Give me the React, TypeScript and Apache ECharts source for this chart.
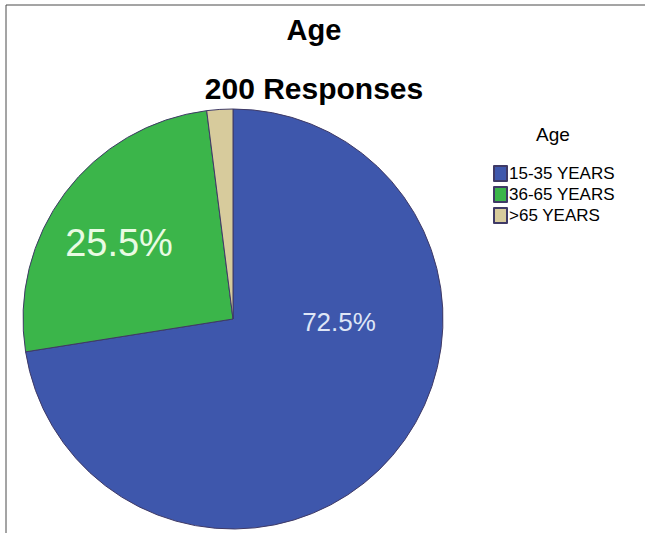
import React, { useEffect, useRef } from "react";
import * as echarts from "echarts";

const categories = ["15-35 YEARS", "36-65 YEARS", ">65 YEARS"];
const values = [145, 51, 4];
const colors = ["#3e57ac", "#3bb54a", "#d7cb9c"];
const chartTitle = "Age";
const chartSubtitle = "200 Responses";
const legendTitle = "Age";

// label placement (layout only)
const labelPos: Array<[number, number] | null> = [[339, 322], [119, 243], null];
const labelSize = [26, 38, 0];
const labelColor = ["#dfe6f6", "#e9fbe3", "#ffffff"];

export default function App() {
  const ref = useRef<HTMLDivElement>(null);
  useEffect(() => {
    if (!ref.current) return;
    const chart = echarts.init(ref.current, null, { renderer: "svg" });
    const total = values.reduce((a, b) => a + b, 0);
    chart.setOption({
      animation: false,
      backgroundColor: "#ffffff",
      graphic: [
        {
          type: "rect",
          shape: { x: 6, y: 5, width: 700, height: 600 },
          style: { fill: "none", stroke: "#4a4a4a", lineWidth: 1 },
          silent: true,
        },
        {
          type: "text",
          x: 314,
          y: 30,
          style: {
            text: chartTitle,
            font: "bold 29px Arial, 'Liberation Sans', sans-serif",
            fill: "#000",
            textAlign: "center",
            textVerticalAlign: "middle",
          },
        },
        {
          type: "text",
          x: 314,
          y: 88,
          style: {
            text: chartSubtitle,
            font: "bold 30px Arial, 'Liberation Sans', sans-serif",
            fill: "#000",
            textAlign: "center",
            textVerticalAlign: "middle",
          },
        },
        {
          type: "text",
          x: 553,
          y: 134,
          style: {
            text: legendTitle,
            font: "19px Arial, 'Liberation Sans', sans-serif",
            fill: "#000",
            textAlign: "center",
            textVerticalAlign: "middle",
          },
        },
      ],
      legend: {
        orient: "vertical",
        left: 488,
        top: 160,
        itemWidth: 13,
        itemHeight: 15,
        itemGap: 4,
        icon: "rect",
        textStyle: {
          fontFamily: "Arial, 'Liberation Sans', sans-serif",
          fontSize: 17,
          color: "#000",
          padding: [0, 0, 0, -3],
        },
        data: categories,
      },
      series: [
        {
          type: "pie",
          center: [233, 319],
          radius: 210,
          startAngle: 90,
          clockwise: true,
          avoidLabelOverlap: false,
          itemStyle: { borderColor: "#3f3a66", borderWidth: 1 },
          emphasis: { disabled: true },
          label: {
            show: true,
            position: "inside",
            fontFamily: "Arial, 'Liberation Sans', sans-serif",
          },
          labelLine: { show: false },
          labelLayout: (p: any) => {
            const pos = labelPos[p.dataIndex];
            if (!pos) return {};
            return { x: pos[0], y: pos[1], align: "center", verticalAlign: "middle" };
          },
          data: categories.map((name, i) => ({
            name,
            value: values[i],
            itemStyle: { color: colors[i] },
            label: {
              show: labelPos[i] !== null,
              fontSize: labelSize[i],
              color: labelColor[i],
              formatter: () => ((values[i] / total) * 100).toFixed(1) + "%",
            },
          })),
        },
      ],
    });
    return () => chart.dispose();
  }, []);
  return (
    <div
      ref={ref}
      style={{ position: "fixed", left: 0, top: 0, width: 645, height: 533 }}
    />
  );
}
